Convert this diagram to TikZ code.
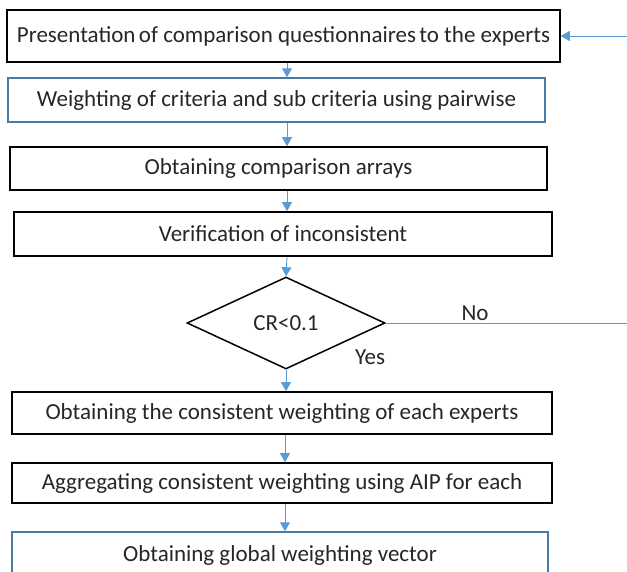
\documentclass[tikz,border=0pt]{standalone}
\usepackage{fontspec}
\setmainfont{Carlito}
\usetikzlibrary{shapes.geometric,arrows.meta}
\definecolor{arrblue}{HTML}{5B9BD5}
\definecolor{boxblue}{HTML}{4A7BA6}
\tikzset{
  txt/.style={font=\fontsize{23}{26}\selectfont, text=black!85},
  stepbox/.style={draw=black, line width=1.6pt, rectangle, inner sep=0pt, txt},
  bluebox/.style={stepbox, draw=boxblue, line width=1.4pt},
  arr/.style={draw=arrblue, line width=0.9pt, -{Triangle[width=10pt,length=9pt]}},
  plainline/.style={draw=arrblue, line width=0.9pt},
  lbl/.style={txt, inner sep=0pt}
}
\begin{document}
\begin{tikzpicture}[x=1pt,y=-1pt]
\useasboundingbox (0,0) rectangle (627,571);
\clip (0,0) rectangle (627,571);
\node[stepbox, minimum width=553pt, minimum height=52pt] (b1) at (283.5,36) {Presentation\hspace{0.15em}of comparison questionnaires\hspace{0.15em}to the experts};
\node[bluebox, minimum width=537pt, minimum height=44pt] (b2) at (276.5,100) {Weighting of criteria and sub criteria using pairwise};
\node[stepbox, minimum width=537pt, minimum height=43pt] (b3) at (278.5,168.5) {Obtaining comparison arrays};
\node[stepbox, minimum width=538pt, minimum height=44pt] (b4) at (283,234) {Verification of inconsistent};
\node[diamond, draw=black, line width=1.5pt, minimum width=198pt, minimum height=92pt, inner sep=0pt, txt] (d) at (286,323) {CR<0.1};
\node[stepbox, minimum width=540pt, minimum height=42pt] (b5) at (282,413) {Obtaining the consistent weighting of each experts};
\node[stepbox, minimum width=540pt, minimum height=40pt] (b6) at (282,483) {Aggregating consistent weighting using AIP for each};
\node[bluebox, minimum width=536pt, minimum height=46pt] (b7) at (280,555) {\raisebox{3pt}{Obtaining global weighting vector}};
\coordinate (r1) at (627,36);
\coordinate (r2) at (627,323);
\coordinate (xa) at (287,0);
\coordinate (xb) at (285,0);
\draw[arr] (b1.south -| xa) -- (b2.north -| xa);
\draw[arr] (b2.south -| xa) -- (b3.north -| xa);
\draw[arr] (b3.south -| xa) -- (b4.north -| xa);
\draw[arr] (b4.south -| xa) -- (d.north);
\draw[arr] (d.south) -- (b5.north -| d.south);
\draw[arr] (b5.south -| xb) -- (b6.north -| xb);
\draw[arr] (b6.south -| xb) -- (b7.north -| xb);
\draw[plainline] (d.east) -- (r2);
\draw[arr] (r1) -- (b1.east);
\node[lbl] (no) at (475,313) {No};
\node[lbl] (yes) at (370,357) {Yes};
\end{tikzpicture}
\end{document}
